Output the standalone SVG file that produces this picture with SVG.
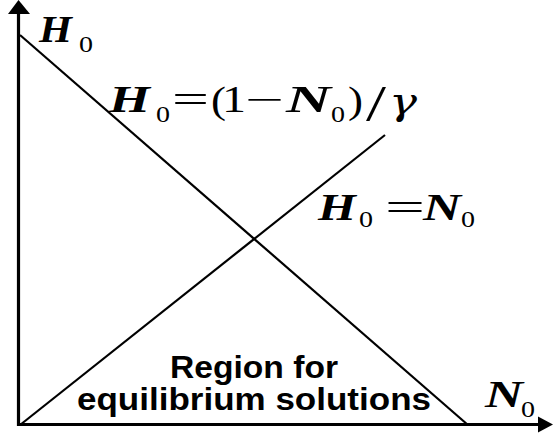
<svg xmlns="http://www.w3.org/2000/svg" width="553" height="435" viewBox="0 0 553 435">
<defs>
<style>
.ax{stroke:#000;stroke-width:3.2;fill:none}
.ln{stroke:#000;stroke-width:2.2;fill:none}
.hd{fill:#000;stroke:none}
.v{font-family:"Liberation Serif","Times New Roman",serif;font-weight:bold;font-style:italic;font-size:38px;fill:#000}
.s{font-family:"Liberation Serif","Times New Roman",serif;font-size:24px;fill:#000}
.o{font-family:"Liberation Serif","Times New Roman",serif;font-size:37px;fill:#000}
.sl{font-family:"Liberation Serif","Times New Roman",serif;font-size:50px;fill:#000}
.g{font-family:"DejaVu Serif","Liberation Serif",serif;font-style:italic;font-size:37px;fill:#000}
.lab{font-family:"Liberation Sans",Arial,sans-serif;font-weight:bold;font-size:31px;fill:#000}
</style>
</defs>
<rect width="553" height="435" fill="#fff"/>
<g id="connectors">
<line class="ax" x1="18.5" y1="426" x2="18.5" y2="12"/>
<polygon class="hd" points="18.5,0 8,14 30,14"/>
<line class="ax" x1="17" y1="424.5" x2="540" y2="424.5"/>
<polygon class="hd" points="553,424.5 538,416.5 538,432.5"/>
<line class="ln" x1="20" y1="35" x2="468" y2="425"/>
<line class="ln" x1="20" y1="425" x2="385" y2="135"/>
</g>
<g id="axis-label-H0">
<text class="v" x="39" y="42" textLength="33" lengthAdjust="spacingAndGlyphs">H</text>
<text class="s" x="79" y="52" textLength="14" lengthAdjust="spacingAndGlyphs">0</text>
</g>
<g id="eq-line1">
<text class="v" x="109" y="112" textLength="41" lengthAdjust="spacingAndGlyphs">H</text>
<text class="s" x="156" y="122" textLength="14" lengthAdjust="spacingAndGlyphs">0</text>
<text class="o" x="172" y="112" textLength="37" lengthAdjust="spacingAndGlyphs">=</text>
<text class="o" x="211" y="113" textLength="15" lengthAdjust="spacingAndGlyphs">(</text>
<text class="o" x="222" y="112" textLength="24" lengthAdjust="spacingAndGlyphs">1</text>
<text class="o" x="245" y="112" textLength="39" lengthAdjust="spacingAndGlyphs">−</text>
<text class="v" x="286" y="112" textLength="45" lengthAdjust="spacingAndGlyphs">N</text>
<text class="s" x="331" y="122" textLength="14" lengthAdjust="spacingAndGlyphs">0</text>
<text class="o" x="348" y="113" textLength="15" lengthAdjust="spacingAndGlyphs">)</text>
<text class="sl" x="366" y="120" textLength="20" lengthAdjust="spacingAndGlyphs">/</text>
<text class="g" x="389" y="114" textLength="28" lengthAdjust="spacingAndGlyphs">γ</text>
</g>
<g id="eq-line2">
<text class="v" x="318" y="220" textLength="38" lengthAdjust="spacingAndGlyphs">H</text>
<text class="s" x="359" y="227" textLength="14" lengthAdjust="spacingAndGlyphs">0</text>
<text class="o" x="385" y="220" textLength="40" lengthAdjust="spacingAndGlyphs">=</text>
<text class="v" x="423" y="220" textLength="38" lengthAdjust="spacingAndGlyphs">N</text>
<text class="s" x="461" y="227" textLength="14" lengthAdjust="spacingAndGlyphs">0</text>
</g>
<g id="axis-label-N0">
<text class="v" x="485" y="407" textLength="38" lengthAdjust="spacingAndGlyphs">N</text>
<text class="s" x="521" y="417" textLength="14" lengthAdjust="spacingAndGlyphs">0</text>
</g>
<g id="region-label">
<text class="lab" x="170" y="378" textLength="168" lengthAdjust="spacingAndGlyphs">Region for</text>
<text class="lab" x="77" y="410" textLength="354" lengthAdjust="spacingAndGlyphs">equilibrium solutions</text>
</g>
</svg>
